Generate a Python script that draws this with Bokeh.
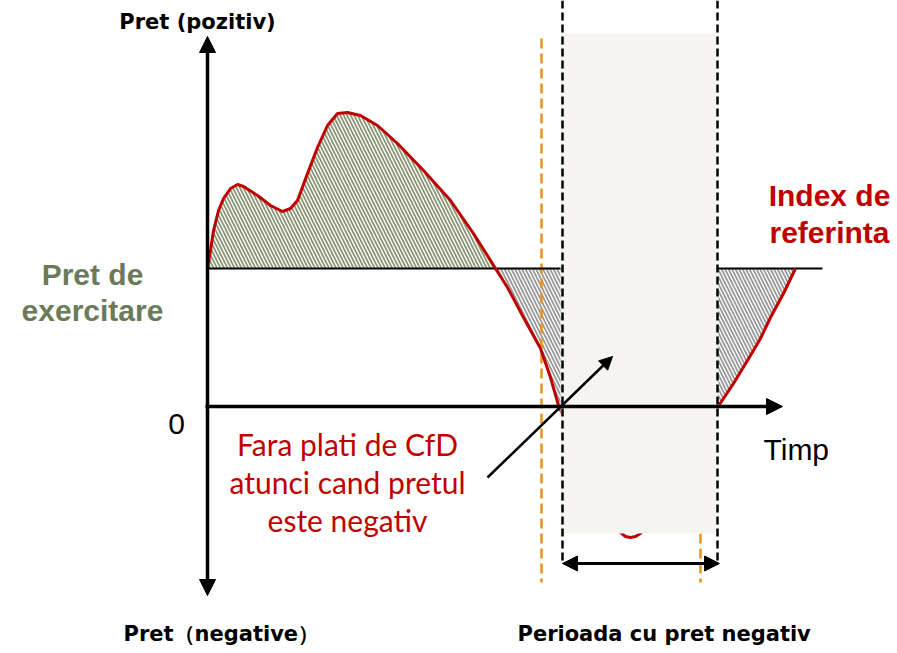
import numpy as np
from bokeh.plotting import figure
from bokeh.models import Range1d, Arrow, NormalHead
from bokeh.core.properties import value
from bokeh.embed import file_html
from bokeh.resources import INLINE

# ---- data (time in diagram units, price relative to 0 axis) ----
time = [207, 210, 213, 218, 223, 230, 237, 243, 257, 270, 282, 290, 297, 307, 317, 327,
        337, 347, 360, 377, 397, 423, 450, 473, 495, 507, 523, 540, 550, 558, 562, 575,
        595, 605, 613, 620, 625, 630, 635, 640, 648, 665, 690, 717, 733, 747, 760, 770,
        783, 795]
price = [138, 156, 176, 196, 208, 218, 222, 220, 211, 201, 195, 198, 206, 233, 259, 281,
         293, 294, 291, 281, 263, 236, 206, 173, 138, 119, 89, 58, 29, 1, -8, -39,
         -84, -104, -118, -126, -130, -131, -130, -127, -119, -99, -54, -1, 23, 46, 68, 89,
         113, 138]
strike = 138
zero = 0
neg_start = 562      # start of negative price period
neg_end = 717        # end of negative price period
gate_early = 541     # orange markers
gate_late = 700
t_axis_start, t_axis_end = 205, 782
strike_end = 822
p_axis_top, p_axis_bottom = 370, -189
period_top, period_bottom = 373, -127
dash_top, dash_bottom = 406, -154
orange_top, orange_bottom = 368, -176
span_y = -157
pointer = ([487, 612], [-71, 50])

t = np.array(time, dtype=float)
pr = np.array(price, dtype=float)

p = figure(width=897, height=653, x_range=Range1d(0, 897), y_range=Range1d(-247, 406),
           output_backend="svg", toolbar_location=None, x_axis_type=None, y_axis_type=None,
           min_border=0, min_border_left=0, min_border_right=0, min_border_top=0,
           min_border_bottom=0)
p.outline_line_color = None
p.background_fill_color = "white"
p.border_fill_color = "white"

# hatched areas
m1 = t <= 495
p.varea(x=t[m1], y1=np.full(m1.sum(), strike), y2=pr[m1], fill_color=None, fill_alpha=0,
        hatch_pattern="left_diagonal_line", hatch_color="#8A9878", hatch_scale=7, hatch_weight=1.8)
m2 = (t >= 495) & (t <= neg_start)
p.varea(x=t[m2], y1=np.maximum(pr[m2], zero), y2=np.full(m2.sum(), strike), fill_color=None,
        fill_alpha=0, hatch_pattern="left_diagonal_line", hatch_color="#9A9A9A", hatch_scale=7,
        hatch_weight=1.8)
m3 = t >= neg_end
p.varea(x=t[m3], y1=np.maximum(pr[m3], zero), y2=np.full(m3.sum(), strike), fill_color=None,
        fill_alpha=0, hatch_pattern="left_diagonal_line", hatch_color="#9A9A9A", hatch_scale=7,
        hatch_weight=1.8)

# orange dashed markers
p.segment(x0=[gate_early, gate_late], y0=[orange_top] * 2, x1=[gate_early, gate_late],
          y1=[orange_bottom] * 2, line_color="#E8921E", line_width=2.5, line_dash="10 5")

# strike line
p.segment(x0=[207], y0=[strike], x1=[strike_end], y1=[strike], line_color="black", line_width=2)

# price curve
p.line(t, pr, line_color="#C00000", line_width=3)

# negative price period box
p.quad(left=[560], right=[718], top=[period_top], bottom=[period_bottom],
       fill_color="#F5F4F1", line_color=None)

# black dashed boundaries
p.segment(x0=[neg_start, neg_end], y0=[dash_top] * 2, x1=[neg_start, neg_end],
          y1=[dash_bottom] * 2, line_color="black", line_width=2.5, line_dash="8 4")

# axes
p.add_layout(Arrow(end=NormalHead(size=16, fill_color="black", line_color="black"),
                   x_start=t_axis_start, y_start=zero, x_end=t_axis_end, y_end=zero,
                   line_width=3.5, line_color="black"))
p.add_layout(Arrow(end=NormalHead(size=16, fill_color="black", line_color="black"),
                   start=NormalHead(size=16, fill_color="black", line_color="black"),
                   x_start=207, y_start=p_axis_bottom, x_end=207, y_end=p_axis_top,
                   line_width=3.5, line_color="black"))
# period span arrow
p.add_layout(Arrow(end=NormalHead(size=15, fill_color="black", line_color="black"),
                   start=NormalHead(size=15, fill_color="black", line_color="black"),
                   x_start=neg_start, y_start=span_y, x_end=719, y_end=span_y,
                   line_width=3, line_color="black"))
# pointer arrow
p.add_layout(Arrow(end=NormalHead(size=13, fill_color="black", line_color="black"),
                   x_start=pointer[0][0], y_start=pointer[1][0], x_end=pointer[0][1],
                   y_end=pointer[1][1], line_width=2.5, line_color="black"))

# texts
bold_labels = ["Pret (pozitiv)", "Pret\uff08negative\uff09", "Perioada cu pret negativ"]
p.text(x=[197], y=[385], text=[bold_labels[0]], text_font=value("DejaVu Sans"),
       text_font_style="bold", text_font_size="21px", text_align="center",
       text_baseline="alphabetic", text_color="black")
p.text(x=[123, 517], y=[-227, -227], text=bold_labels[1:], text_font=value("DejaVu Sans"),
       text_font_style="bold", text_font_size="21px", text_align="left",
       text_baseline="alphabetic", text_color="black")

p.text(x=[92, 92], y=[132, 96], text=["Pret de", "exercitare"], text_font=value("Liberation Sans"),
       text_font_style="bold", text_font_size="30px", text_align="center",
       text_baseline="alphabetic", text_color="#6B7A58")

p.text(x=[829, 829], y=[211, 174], text=["Index de", "referinta"], text_font=value("Liberation Sans"),
       text_font_style="bold", text_font_size="30px", text_align="center",
       text_baseline="alphabetic", text_color="#C00000")

p.text(x=[176], y=[-17], text=["0"], text_font=value("Liberation Sans"), text_font_size="30px",
       text_align="center", text_baseline="alphabetic", text_color="black")
p.text(x=[763], y=[-43], text=["Timp"], text_font=value("Liberation Sans"), text_font_size="30px",
       text_align="left", text_baseline="alphabetic", text_color="black")

red_lines = ["Fara plati de CfD", "atunci cand pretul", "este negativ"]
p.text(x=[347] * 3, y=[-37, -75, -113], text=red_lines, text_font=value("Lato"),
       text_font_size="30px", text_align="center", text_baseline="alphabetic",
       text_color="#C00000")

open("out.html", "w").write(file_html(p, INLINE))
